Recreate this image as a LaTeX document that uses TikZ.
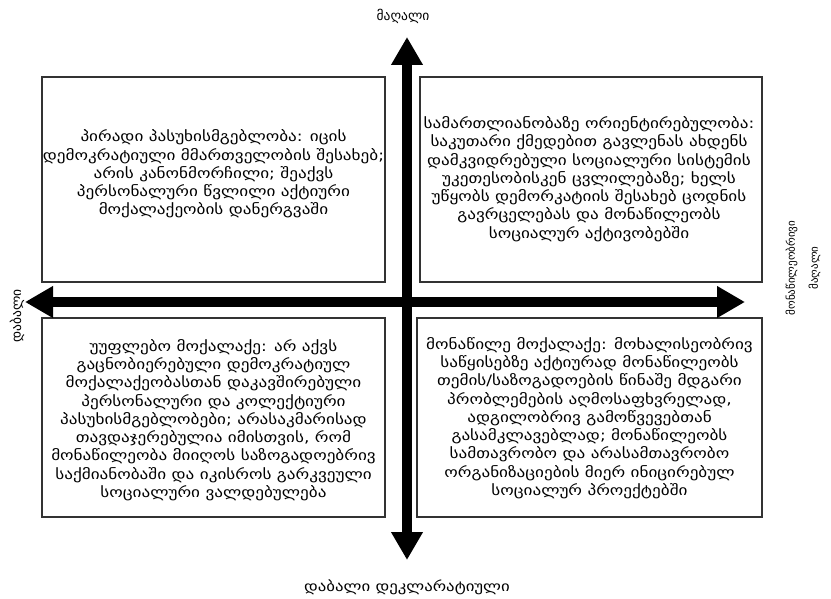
\documentclass[tikz,border=0pt]{standalone}
\usepackage{fontspec}
\setmainfont{DejaVu Sans}
\newfontfamily\widefont[FakeStretch=1.2]{DejaVu Sans}
\usetikzlibrary{arrows.meta}
\tikzset{
  quad/.style={draw=black!80, line width=1.3pt},
  quadtext/.style={align=center, font=\widefont\fontsize{14.3}{18.3}\selectfont, inner sep=0pt},
  axislabel/.style={font=\fontsize{13.5}{23}\selectfont, inner sep=0pt, align=center},
  axisarrow/.style={line width=10pt, -{Triangle[width=30pt,length=28pt]}}
}
\begin{document}
\begin{tikzpicture}[x=1pt,y=-1pt]
\useasboundingbox (0,0) rectangle (831,599);
% boxes
\draw[quad] (42,77) rectangle (385,282);
\draw[quad] (420,77) rectangle (762,282);
\draw[quad] (42,318) rectangle (385,517);
\draw[quad] (417,318) rectangle (762,517);
% texts
\node[quadtext] (tl) at (213.5,174) {პირადი პასუხისმგებლობა: იცის\\დემოკრატიული მმართველობის შესახებ;\\არის კანონმორჩილი; შეაქვს\\პერსონალური წვლილი აქტიური\\მოქალაქეობის დანერგვაში};
\node[quadtext] (tr) at (589,179) {სამართლიანობაზე ორიენტირებულობა:\\საკუთარი ქმედებით გავლენას ახდენს\\დამკვიდრებული სოციალური სისტემის\\უკეთესობისკენ ცვლილებაზე; ხელს\\უწყობს დემორკატიის შესახებ ცოდნის\\გავრცელებას და მონაწილეობს\\სოციალურ აქტივობებში};
\node[quadtext] (bl) at (213.5,420) {უუფლებო მოქალაქე: არ აქვს\\გაცნობიერებული დემოკრატიულ\\მოქალაქეობასთან დაკავშირებული\\პერსონალური და კოლექტიური\\პასუხისმგებლობები; არასაკმარისად\\თავდაჯერებულია იმისთვის, რომ\\მონაწილეობა მიიღოს საზოგადოებრივ\\საქმიანობაში და იკისროს გარკვეული\\სოციალური ვალდებულება};
\node[quadtext] (br) at (589.5,418) {მონაწილე მოქალაქე: მოხალისეობრივ\\საწყისებზე აქტიურად მონაწილეობს\\თემის/საზოგადოების წინაშე მდგარი\\პრობლემების აღმოსაფხვრელად,\\ადგილობრივ გამოწვევებთან\\გასამკლავებლად; მონაწილეობს\\სამთავრობო და არასამთავრობო\\ორგანიზაციების მიერ ინიცირებულ\\სოციალურ პროექტებში};
% axes
\coordinate (top) at (407,37);
\coordinate (bottom) at (407,560);
\coordinate (left) at (25,302);
\coordinate (right) at (745,302);
\coordinate (ctr) at (407,302);
\draw[axisarrow] (ctr) -- (top);
\draw[axisarrow] (ctr) -- (bottom);
\draw[axisarrow] (ctr) -- (left);
\draw[axisarrow] (ctr) -- (right);
% axis labels
\node[axislabel] (ltop) at (403,16) {მაღალი};
\node[axislabel, font=\widefont\fontsize{14}{23}\selectfont] (lbottom) at (407,587) {დაბალი დეკლარატიული};
\node[axislabel, rotate=90] (lleft) at (17,316) {დაბალი};
\node[axislabel, font=\fontsize{11}{23}\selectfont, rotate=90] (lright) at (803,268) {მონაწილეობრივი\\მაღალი};
\end{tikzpicture}
\end{document}
